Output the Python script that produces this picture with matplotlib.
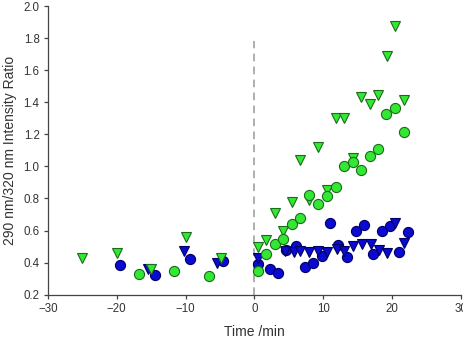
import matplotlib
matplotlib.use("Agg")
import matplotlib.pyplot as plt

# datos (tiempo en min, ratio 290/320)
blue_circle_time = [-19.5, -14.5, -9.4, -4.5, 0.5, 2.3, 3.5, 4.6, 6.0, 7.3, 8.5, 9.8, 11.0,
                    12.2, 13.5, 14.8, 16.0, 17.2, 18.5, 19.7, 21.0, 22.3]
blue_circle_ratio = [0.385, 0.325, 0.42, 0.41, 0.39, 0.36, 0.335, 0.48, 0.505, 0.375, 0.40, 0.44,
                     0.645, 0.51, 0.435, 0.595, 0.635, 0.455, 0.60, 0.63, 0.465, 0.59]

blue_tri_time = [-15.5, -10.3, -5.4, 0.5, 4.5, 5.7, 6.7, 8.0, 9.3, 10.6, 12.0, 13.0, 14.3,
                 15.6, 16.9, 18.1, 19.3, 20.5, 21.7]
blue_tri_ratio = [0.36, 0.475, 0.40, 0.43, 0.475, 0.465, 0.475, 0.465, 0.475, 0.465, 0.485,
                  0.475, 0.505, 0.515, 0.515, 0.48, 0.46, 0.65, 0.52]

green_tri_time = [-25, -20, -15, -9.9, -4.9, 0.5, 1.7, 3.0, 4.2, 5.5, 6.7, 8.0, 9.2, 10.6,
                  11.8, 13.1, 14.3, 15.5, 16.8, 18.0, 19.3, 20.5, 21.7]
green_tri_ratio = [0.43, 0.46, 0.36, 0.56, 0.43, 0.50, 0.54, 0.71, 0.60, 0.78, 1.04, 0.79, 1.12,
                   0.85, 1.30, 1.30, 1.05, 1.43, 1.39, 1.445, 1.69, 1.875, 1.415]

green_circle_time = [-16.7, -11.7, -6.6, 0.5, 1.7, 3.0, 4.2, 5.5, 6.7, 8.0, 9.2, 10.6, 11.8,
                     13.0, 14.3, 15.5, 16.8, 18.0, 19.2, 20.5, 21.7]
green_circle_ratio = [0.33, 0.35, 0.315, 0.35, 0.455, 0.515, 0.55, 0.64, 0.68, 0.82, 0.765,
                      0.815, 0.87, 1.0, 1.03, 0.98, 1.065, 1.11, 1.325, 1.365, 1.215]

x_ticks = [-30, -20, -10, 0, 10, 20, 30]
y_ticks = [0.2, 0.4, 0.6, 0.8, 1.0, 1.2, 1.4, 1.6, 1.8, 2.0]


def main():
    plt.rcParams["font.family"] = ["Liberation Sans", "DejaVu Sans"]
    fig = plt.figure(figsize=(4.64, 3.43), dpi=100)
    ax = fig.add_axes([0.1034, 0.1408, 0.8896, 0.8417])

    # linea discontinua en t = 0
    ax.plot([0, 0], [0.2, 1.78], color="#999999", linestyle=(0, (5, 3.5)), linewidth=1.1, zorder=1)

    blue = dict(color="#0a0ad2", markeredgecolor="#000060", markeredgewidth=0.8, linestyle="none")
    green = dict(color="#33e833", markeredgecolor="#1b6b1b", markeredgewidth=0.8, linestyle="none")

    ax.plot(blue_circle_time, blue_circle_ratio, marker="o", markersize=7.3, zorder=3, **blue)
    ax.plot(blue_tri_time, blue_tri_ratio, marker="v", markersize=7.8, zorder=3, **blue)
    ax.plot(green_tri_time, green_tri_ratio, marker="v", markersize=7.8, zorder=4, **green)
    ax.plot(green_circle_time, green_circle_ratio, marker="o", markersize=7.3, zorder=4, **green)

    ax.set_xlim(-30, 30)
    ax.set_ylim(0.2, 2.0)
    ax.set_xticks(x_ticks)
    ax.set_yticks(y_ticks)
    ax.set_yticklabels([f"{v:.1f}" for v in y_ticks])

    # solo ejes izquierdo e inferior
    ax.spines["top"].set_visible(False)
    ax.spines["right"].set_visible(False)
    for side in ["left", "bottom"]:
        ax.spines[side].set_color("#444444")
        ax.spines[side].set_linewidth(0.9)
    ax.tick_params(direction="out", length=3, width=0.9, color="#444444",
                   labelsize=8.3, labelcolor="#333333", pad=3)

    ax.set_xlabel("Time /min", fontsize=10, color="#333333", labelpad=7)
    ax.set_ylabel("290 nm/320 nm Intensity Ratio", fontsize=10, color="#333333", labelpad=5)

    fig.savefig("out.png", dpi=100)


if __name__ == "__main__":
    main()
